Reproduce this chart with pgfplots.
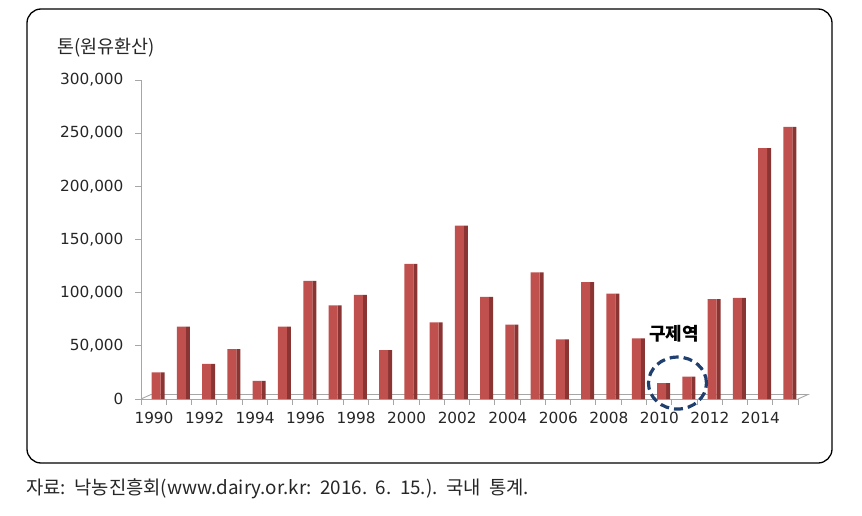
\documentclass[border=0pt]{standalone}
\usepackage{pgfplots}
\pgfplotsset{compat=1.18}
\usepackage{pgfplotstable}
\usepackage{fontspec}
\setmainfont{DejaVu Sans}
\newfontfamily\kr{Noto Sans CJK KR}
\definecolor{barface}{HTML}{C0504D}
\definecolor{barside}{HTML}{8A3533}
\definecolor{navy}{HTML}{1F3F6F}
\pgfplotstableread{
year value
1990 25000
1991 68000
1992 33000
1993 47000
1994 17000
1995 68000
1996 111000
1997 88000
1998 98000
1999 46000
2000 127000
2001 72000
2002 163000
2003 96000
2004 70000
2005 119000
2006 56000
2007 110000
2008 99000
2009 57000
2010 15000
2011 21000
2012 94000
2013 95000
2014 236000
2015 256000
}\datatable
\begin{document}
\begin{tikzpicture}
\path (0pt,0pt) rectangle (862pt,-516pt);
\draw[rounded corners=14pt, line width=1.3pt] (27pt,-9pt) rectangle (832pt,-463pt);
\node[anchor=west, inner sep=0pt, text=black!85] at (57pt,-48pt) {\kr\fontsize{18.5}{21}\selectfont 톤(원유환산)};
\node[anchor=west, inner sep=0pt, text=black!85] at (26pt,-489pt) {\kr\fontsize{18.8}{22}\selectfont 자료:\ \ 낙농진흥회(www.dairy.or.kr:\ \ 2016.\ \ 6.\ \ 15.).\ \ 국내\ \ 통계.};
\begin{axis}[
  at={(141pt,-399pt)}, anchor=south west,
  scale only axis, width=657pt, height=319pt,
  xmin=1989.5, xmax=2015.5, ymin=0, ymax=300000,
  clip=false,
  axis x line*=bottom, axis y line*=left,
  axis line style={gray!70, line width=0.9pt},
  every outer x axis line/.append style={-}, every outer y axis line/.append style={-},
  tick align=outside, major tick length=6pt,
  tick style={gray!70, line width=0.8pt},
  xtick={1989.5,1990.5,...,2015.5},
  xticklabels={1990,,1992,,1994,,1996,,1998,,2000,,2002,,2004,,2006,,2008,,2010,,2012,,2014,,},
  xticklabel style={xshift=13pt, yshift=-4pt, font=\fontsize{15.3}{18}\selectfont, text=black!85},
  ytick={0,50000,...,300000},
  scaled y ticks=false,
  yticklabel={\pgfmathprintnumber[fixed,precision=0,assume math mode=true,1000 sep={,}]{\tick}},
  yticklabel style={font=\fontsize{15.3}{18}\selectfont, text=black!85, xshift=-8pt},
]
\draw[gray!70, line width=0.9pt] (axis cs:1989.5,0) -- ([shift={(10pt,4.5pt)}]axis cs:1989.5,0) -- ([shift={(10pt,4.5pt)}]axis cs:2015.5,0) -- (axis cs:2015.5,0);
\addplot[ybar, bar width=4pt, bar shift=9pt, fill=barside, draw=none] table[x=year, y=value] {\datatable};
\addplot[ybar, bar width=9pt, bar shift=2.5pt, fill=barface, draw=none] table[x=year, y=value] {\datatable};
\draw[navy, line width=3.2pt, dash pattern=on 9pt off 5pt] (axis cs:2010.73,15000) ellipse [x radius=29pt, y radius=26pt];
\node[font=\kr\bfseries\fontsize{18}{20}\selectfont, text=black] at (axis cs:2010.6,61000) {구제역};
\end{axis}
\end{tikzpicture}
\end{document}
